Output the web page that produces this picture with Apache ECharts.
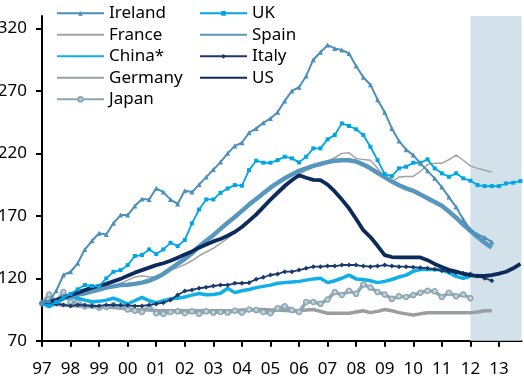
<!DOCTYPE html>
<html>
<head>
<meta charset="utf-8">
<script src="https://cdn.jsdelivr.net/npm/echarts@6/dist/echarts.min.js"></script>
<style>
html,body{margin:0;padding:0;background:#fff;}
#c{width:524px;height:381px;}
</style>
</head>
<body>
<div id="c"></div>
<script>
// Quarterly index values (1997 Q1 = 100), first value at 1997.0, step one quarter
const startYear = 1997;
const yearTicks = [1997,1998,1999,2000,2001,2002,2003,2004,2005,2006,2007,2008,2009,2010,2011,2012,2013];
const valueTicks = [70,120,170,220,270,320];
const forecastStart = 2012;
const forecastEnd = 2013.79;

const ireland = [100,102,110,122.6,125.2,132,143,150,156,155,164,170.6,170.6,177.8,183.4,183,192,189,183,179.5,190,189,195,201,207,213,220,226,228.5,236.5,240,244.5,248,253,262,270,273,282,295,301,306.7,304,302.7,300,290,281,275,263,253,240,230,223,218.6,212,206,200,193,185,177,167,159,155,152.7,149];
const uk = [100,98,101,104.5,107.5,111.1,114.6,113.8,113.8,119.9,125.2,126.5,130.5,137.8,138.6,143.1,139.4,143.1,148.4,145.7,150.6,164,175.1,183.1,183.1,188.4,191.9,194.6,194.1,206.6,214.1,212.5,212.5,214.6,217.3,216,212.8,217.3,224,224,231.2,234.7,244,241.9,239.3,234.7,225.3,214.6,203.4,201.8,208,209.3,212.5,212.5,215.2,208,204,201.3,204,200,198.1,194.6,193.8,193.8,193.8,195.9,196.5,197.8];
const france = [100,101,102,103,104.5,106,107,108.5,110,112,114,116,118.5,121,122,121,121,123.5,126.5,128.5,131,134,138,141,144,148,152,157,162,167,172.5,177,182,187,192,198,203,206.5,209,212,214,216.5,220,220.5,216,215,214.5,208,201,197.5,201,201.5,201.5,205.5,211,212,212,215,218.6,214.5,210,208,206.5,205];
const spain = [100,101,102.5,104.5,106,107,108,109.5,111,112.5,113.5,114.5,114.8,115.5,116.5,118,120.5,123.5,127.5,131.5,135.5,140,145.5,150,154.5,159.5,164.5,169,174,179,183.5,188,192.5,196.5,200,203,206,208,210,211.5,213,214,214.5,214.5,213.5,211,208,204.5,201,197.5,194.5,192,190,187,184,181,178,173.5,168.5,163,158,153,148.5,144.5];
const china = [100,97.3,100,103.5,105,104,102.5,101.2,101.5,102.5,104,102,99.4,102,104.7,102,100.5,102,103.5,104,105,106.5,107.8,106.8,107,108,112,108.5,110,111,112.5,113.5,114.5,116,116.5,117,117.5,118.5,119.5,120,116.5,118,120,122.5,119.5,119,118,116.5,117.5,119,121,122.5,125.5,127,127,127,126.6,124.5,121.5,120,121.5];
const italy = [100,99.8,99.4,98.6,97.8,98.6,98.3,97.8,97.8,98.6,98.6,98.3,98.3,97.8,97.8,98.6,99.4,100.4,102.6,106.6,109.8,110.6,112,112.8,113.8,114.6,114.6,116,116,116.5,119.2,120.8,122.6,123.4,125.3,125.3,126.6,128,129.3,129.3,129.8,129.8,130.6,130.6,130.6,129.8,129.3,129.8,130.6,129.8,129.3,129.3,128.8,128.5,128,127.2,126.1,125.3,124.5,124,123.4,121.8,120,118.1];
const germany = [100,99.5,99,98.5,98,97.8,97.5,97.2,97,96.8,96.5,96,95.5,95,94.8,94.5,94.2,94,94,94,94,94,94,94,94,94,94,94,94.5,94.5,95,95,94.6,94.5,94.2,94,94,94.5,95,93.5,92,92,92,92,93,94,92.5,93.5,95,94,92.5,91.5,90.5,91.5,92.4,92.4,92.4,92.4,92.4,92.4,92.4,93,94,94];
const us = [100,101.2,102.5,104.5,106.5,108.5,110.5,112.5,114,115.5,117.5,119.5,122,124.5,126.5,128.5,130.5,132,134,136.5,139,141.5,144.5,147,149.5,151.5,154,157,161,166,171,177,183,188.5,194,198.5,202.5,200.5,198.8,198.5,195,189.5,183,176,167.5,158.5,153,146,138.5,137,136.7,136.7,136.7,136.7,134.5,131.5,129,126.8,125.3,123.6,122.6,121.8,121.8,122.5,123.7,125.2,128,131.5];
const japan = [100,107,101,109,101,101,97.5,98,96.5,97,98.5,97.5,95,94,93,97,92,91.5,93,93.5,92,93.5,91.5,93.5,92.5,93,92.5,94,92.5,95,94.5,93,92,96,97.5,94.5,93,101,101,99.5,103,109,106.6,110,107.5,115,112.5,109,107,103.5,105.5,105,106.5,108.4,110,109.5,105,108.4,105.5,107,104];

function pts(vals){ return vals.map((v,i)=>[startYear + i*0.25, v]); }

const FONT = 'Noto Sans';
const chart = echarts.init(document.getElementById('c'), null, {renderer:'canvas'});

function lineSeries(name, data, color, width, symbol, symbolSize, z, itemStyle){
  return {
    name, type:'line', data: pts(data), z,
    lineStyle:{color, width},
    itemStyle: itemStyle || {color},
    color,
    symbol: symbol || 'none',
    symbolSize: symbolSize || 0,
    showSymbol: !!symbol,
    smooth:false,
    animation:false
  };
}

const hideMark = {opacity:0};
const legendBase = {
  orient:'vertical', top:3.3, padding:0,
  itemWidth:47, itemHeight:6, itemGap:1.5,
  textStyle:{fontFamily:FONT, fontSize:17, color:'#000', lineHeight:20},
  selectedMode:false
};

const option = {
  animation:false,
  textStyle:{fontFamily:FONT},
  grid:{left:42, right:2.5, top:16, bottom:40.3, containLabel:false, outerBoundsMode:'none'},
  legend:[
    Object.assign({}, legendBase, {left:56, data:[
      {name:'Ireland'},
      {name:'France', itemStyle:hideMark},
      {name:'China*', itemStyle:hideMark},
      {name:'Germany', itemStyle:hideMark},
      {name:'Japan'}
    ]}),
    Object.assign({}, legendBase, {left:199, data:[
      {name:'UK'},
      {name:'Spain', itemStyle:hideMark},
      {name:'Italy'},
      {name:'US', itemStyle:hideMark}
    ]})
  ],
  xAxis:{
    type:'value', min:startYear, max:forecastEnd,
    splitLine:{show:false},
    axisLine:{lineStyle:{color:'#000', width:2}},
    axisTick:{length:6, lineStyle:{color:'#000', width:2}, customValues:yearTicks},
    axisLabel:{customValues:yearTicks, fontFamily:FONT, fontSize:17, color:'#000', margin:20,
      align:'center', showMinLabel:true, showMaxLabel:true, hideOverlap:false,
      formatter:v=>String(Math.round(v)).slice(2)}
  },
  yAxis:{
    type:'value', min:70, max:330,
    splitLine:{show:false},
    axisLine:{show:true, lineStyle:{color:'#000', width:2}},
    axisTick:{show:true, length:6, lineStyle:{color:'#000', width:2}, customValues:valueTicks},
    axisLabel:{customValues:valueTicks, fontFamily:FONT, fontSize:17, color:'#000', margin:15,
      verticalAlign:'middle', showMinLabel:true, showMaxLabel:true}
  },
  series:[
    {
      name:'forecast', type:'line', data:[], z:0, silent:true,
      markArea:{silent:true, itemStyle:{color:'#d3e2ea'},
        data:[[{xAxis:forecastStart},{xAxis:forecastEnd}]]}
    },
    lineSeries('Germany', germany, '#9a9ea2', 3.5, null, 0, 2),
    lineSeries('Japan', japan, '#8ca7b4', 3.5, 'circle', 5, 3, {color:'#c3d3da', borderColor:'#8ca7b4', borderWidth:1.5}),
    lineSeries('China*', china, '#12aee8', 3.5, null, 0, 4),
    lineSeries('France', france, '#a3a3a3', 1.5, null, 0, 5),
    lineSeries('Spain', spain, '#5797bd', 4.5, null, 0, 6),
    lineSeries('Italy', italy, '#1b3a6c', 1.8, 'diamond', 5, 7),
    lineSeries('US', us, '#0c2b5c', 3.8, null, 0, 8),
    lineSeries('UK', uk, '#00a5e4', 1.8, 'rect', 4, 9),
    lineSeries('Ireland', ireland, '#4d8fba', 2, 'triangle', 5, 10)
  ]
};
chart.setOption(option);
</script>
</body>
</html>
